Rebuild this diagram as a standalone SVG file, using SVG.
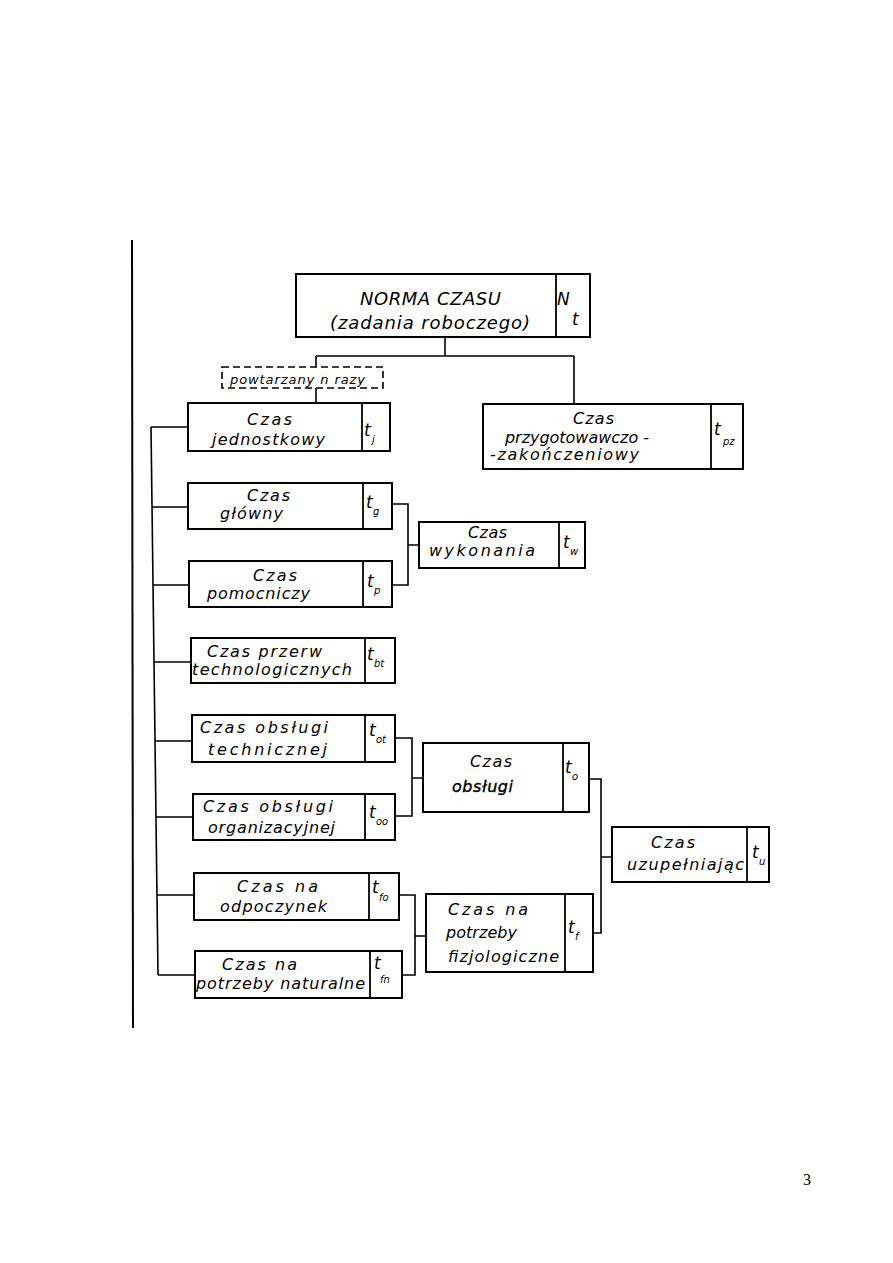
<svg xmlns="http://www.w3.org/2000/svg" width="893" height="1263" viewBox="0 0 893 1263">
<style>
.box{fill:#fff;stroke:#000;stroke-width:2}
.dv{stroke:#000;stroke-width:1.8}
.conn{fill:none;stroke:#000;stroke-width:1.6}
.dash{fill:none;stroke:#000;stroke-width:1.6;stroke-dasharray:7,4}
.t{font-family:"DejaVu Sans","Liberation Sans",sans-serif;font-style:italic;font-size:16px;fill:#000}
.big{font-size:18px}
.sm{font-size:13px}
.lt{font-family:"DejaVu Sans","Liberation Sans",sans-serif;font-style:italic;font-size:17px;fill:#000}
.sub{font-family:"DejaVu Sans","Liberation Sans",sans-serif;font-style:italic;font-size:10px;fill:#000}
.pg{font-family:"Liberation Serif",serif;font-size:16px;fill:#000}
</style>
<rect width="893" height="1263" fill="#fff"/>
<line x1="132" y1="240" x2="133" y2="1028" stroke="#000" stroke-width="2"/>

<g id="connectors">
<path class="conn" d="M445 337V356M316 356H574M316 356V367M574 356V404M316 388V403"/>
<path class="conn" d="M151 427L158 975M151 427H188M152 507H188M153 585H189M154 662H191M155 741H192M156 817H193M157 895H194M158 975H195"/>
<path class="conn" d="M392 504H408V585H392M408 545H419"/>
<path class="conn" d="M395 738H412V816H395M412 778H423"/>
<path class="conn" d="M399 895H415V975H402M415 936H426"/>
<path class="conn" d="M589 779H601V933H593M601 857H612"/>
</g>

<g id="norma">
<rect class="box" x="296" y="274" width="294" height="63"/>
<line class="dv" x1="556" y1="274" x2="556" y2="337"/>
<text class="t big" x="360" y="305" textLength="141" lengthAdjust="spacing">NORMA CZASU</text>
<text class="t big" x="330" y="329" textLength="200" lengthAdjust="spacing">(zadania roboczego)</text>
<text class="lt" x="557" y="305" font-size="20">N</text>
<text class="lt" x="572" y="325">t</text>
</g>

<g id="powtarzany">
<rect class="dash" x="222" y="367" width="161" height="21"/>
<text class="t sm" x="230" y="384" textLength="135" lengthAdjust="spacing">powtarzany n razy</text>
</g>

<g id="jednostkowy">
<rect class="box" x="188" y="403" width="202" height="48"/>
<line class="dv" x1="362" y1="403" x2="362" y2="451"/>
<text class="t" x="247" y="425" textLength="45" lengthAdjust="spacing">Czas</text>
<text class="t" x="212" y="445" textLength="113" lengthAdjust="spacing">jednostkowy</text>
<text class="lt" x="364" y="436">t</text>
<text class="sub" x="372" y="443">j</text>
</g>

<g id="przygotowawczo">
<rect class="box" x="483" y="404" width="260" height="65"/>
<line class="dv" x1="711" y1="404" x2="711" y2="469"/>
<text class="t" x="573" y="424" textLength="41" lengthAdjust="spacing">Czas</text>
<text class="t" x="505" y="443" textLength="144" lengthAdjust="spacing">przygotowawczo -</text>
<text class="t" x="490" y="460" textLength="149" lengthAdjust="spacing">-zakończeniowy</text>
<text class="lt" x="714" y="435">t</text>
<text class="sub" x="723" y="445">pz</text>
</g>

<g id="glowny">
<rect class="box" x="188" y="483" width="204" height="46"/>
<line class="dv" x1="363" y1="483" x2="363" y2="529"/>
<text class="t" x="247" y="501" textLength="43" lengthAdjust="spacing">Czas</text>
<text class="t" x="220" y="519" textLength="63" lengthAdjust="spacing">główny</text>
<text class="lt" x="366" y="508">t</text>
<text class="sub" x="373" y="515">g</text>
</g>

<g id="pomocniczy">
<rect class="box" x="189" y="561" width="203" height="46"/>
<line class="dv" x1="363" y1="561" x2="363" y2="607"/>
<text class="t" x="253" y="581" textLength="44" lengthAdjust="spacing">Czas</text>
<text class="t" x="207" y="599" textLength="103" lengthAdjust="spacing">pomocniczy</text>
<text class="lt" x="367" y="587">t</text>
<text class="sub" x="374" y="594">p</text>
</g>

<g id="wykonania">
<rect class="box" x="419" y="522" width="166" height="46"/>
<line class="dv" x1="559" y1="522" x2="559" y2="568"/>
<text class="t" x="468" y="538" textLength="39" lengthAdjust="spacing">Czas</text>
<text class="t" x="429" y="556" textLength="106" lengthAdjust="spacing">wykonania</text>
<text class="lt" x="563" y="548">t</text>
<text class="sub" x="570" y="555">w</text>
</g>

<g id="przerw">
<rect class="box" x="191" y="638" width="204" height="45"/>
<line class="dv" x1="365" y1="638" x2="365" y2="683"/>
<text class="t" x="207" y="657" textLength="115" lengthAdjust="spacing">Czas przerw</text>
<text class="t" x="192" y="675" textLength="160" lengthAdjust="spacing">technologicznych</text>
<text class="lt" x="367" y="660">t</text>
<text class="sub" x="374" y="667">bt</text>
</g>

<g id="obslugi-techniczne">
<rect class="box" x="192" y="715" width="203" height="47"/>
<line class="dv" x1="365" y1="715" x2="365" y2="762"/>
<text class="t" x="200" y="733" textLength="128" lengthAdjust="spacing">Czas obsługi</text>
<text class="t" x="208" y="755" textLength="119" lengthAdjust="spacing">technicznej</text>
<text class="lt" x="369" y="736">t</text>
<text class="sub" x="376" y="743">ot</text>
</g>

<g id="obslugi-organizacyjne">
<rect class="box" x="193" y="794" width="202" height="46"/>
<line class="dv" x1="365" y1="794" x2="365" y2="840"/>
<text class="t" x="203" y="812" textLength="130" lengthAdjust="spacing">Czas obsługi</text>
<text class="t" x="208" y="833" textLength="127" lengthAdjust="spacing">organizacyjnej</text>
<text class="lt" x="369" y="818">t</text>
<text class="sub" x="376" y="825">oo</text>
</g>

<g id="obslugi">
<rect class="box" x="423" y="743" width="166" height="69"/>
<line class="dv" x1="563" y1="743" x2="563" y2="812"/>
<text class="t" x="470" y="767" textLength="42" lengthAdjust="spacing">Czas</text>
<text class="t" x="452" y="792" textLength="61" lengthAdjust="spacing" stroke="#000" stroke-width="0.4">obsługi</text>
<text class="lt" x="565" y="773">t</text>
<text class="sub" x="572" y="780">o</text>
</g>

<g id="uzupelniajacy">
<rect class="box" x="612" y="827" width="157" height="55"/>
<line class="dv" x1="747" y1="827" x2="747" y2="882"/>
<text class="t" x="651" y="848" textLength="44" lengthAdjust="spacing">Czas</text>
<text class="t" x="627" y="870" textLength="117" lengthAdjust="spacing">uzupełniając</text>
<text class="lt" x="752" y="858">t</text>
<text class="sub" x="759" y="865">u</text>
</g>

<g id="odpoczynek">
<rect class="box" x="194" y="873" width="205" height="47"/>
<line class="dv" x1="369" y1="873" x2="369" y2="920"/>
<text class="t" x="237" y="892" textLength="81" lengthAdjust="spacing">Czas na</text>
<text class="t" x="220" y="912" textLength="107" lengthAdjust="spacing">odpoczynek</text>
<text class="lt" x="372" y="893">t</text>
<text class="sub" x="379" y="901">fo</text>
</g>

<g id="naturalne">
<rect class="box" x="195" y="951" width="207" height="47"/>
<line class="dv" x1="370" y1="951" x2="370" y2="998"/>
<text class="t" x="222" y="970" textLength="75" lengthAdjust="spacing">Czas na</text>
<text class="t" x="196" y="989" textLength="169" lengthAdjust="spacing">potrzeby naturalne</text>
<text class="lt" x="374" y="969">t</text>
<text class="sub" x="380" y="983">fn</text>
</g>

<g id="fizjologiczne">
<rect class="box" x="426" y="894" width="167" height="78"/>
<line class="dv" x1="565" y1="894" x2="565" y2="972"/>
<text class="t" x="448" y="915" textLength="80" lengthAdjust="spacing">Czas na</text>
<text class="t" x="446" y="938" textLength="71" lengthAdjust="spacing">potrzeby</text>
<text class="t" x="448" y="962" textLength="111" lengthAdjust="spacing">fizjologiczne</text>
<text class="lt" x="568" y="933">t</text>
<text class="sub" x="575" y="940">f</text>
</g>

<text class="pg" x="803" y="1185">3</text>
</svg>
